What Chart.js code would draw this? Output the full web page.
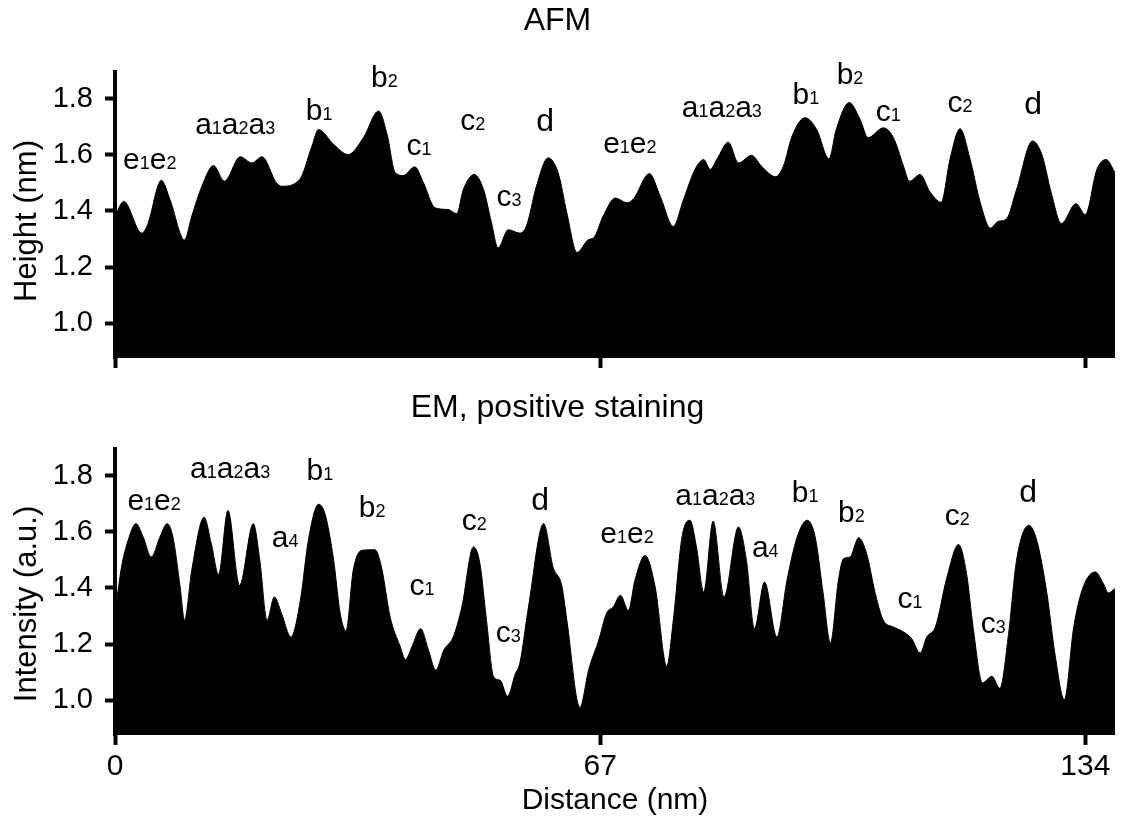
<!DOCTYPE html>
<html>
<head>
<meta charset="utf-8">
<script src="https://cdn.jsdelivr.net/npm/chart.js@4/dist/chart.umd.min.js"></script>
<style>
  body { margin: 0; background: #fff; }
  #wrap { position: relative; width: 1125px; height: 821px; }
  .box { position: absolute; left: 0; width: 1125px; }
  #afmBox { top: 0; height: 380px; }
  #emBox { top: 380px; height: 441px; }
</style>
</head>
<body>
<div id="wrap">
  <div class="box" id="afmBox"><canvas id="afmChart"></canvas></div>
  <div class="box" id="emBox"><canvas id="emChart"></canvas></div>
</div>
<script>
// axis ticks
var xTicks = [0, 67, 134];
var yTicks = [1.0, 1.2, 1.4, 1.6, 1.8];

// AFM height profile (nm vs nm)
var afmDistance = [0, 1.2, 3.7, 4.5, 6.4, 7.6, 9.6, 10.6, 12.0, 13.6, 15.1, 17.3, 18.9, 20.3, 22.3, 23.0, 25.5, 27.2, 28.1, 30.2,
  32.2, 34.3, 36.4, 37.6, 38.7, 39.8, 41.4, 42.6, 44.2, 46.0, 47.2, 48.1, 49.6, 50.9, 52.0, 52.9, 54.3, 55.9, 56.8, 58.2,
  59.8, 61.2, 62.4, 63.8, 65.4, 66.1, 67.4, 69.1, 70.7, 71.6, 73.8, 75.3, 77.1, 78.5, 80.1, 81.3, 82.2, 83.1, 84.7, 86.1,
  87.9, 89.3, 91.2, 92.3, 93.5, 95.3, 96.9, 98.6, 99.6, 101.4, 102.9, 104.0, 106.1, 107.5, 108.9, 109.7, 111.2, 112.5, 114.1, 115.3,
  116.7, 118.1, 119.5, 120.9, 122.0, 123.1, 124.5, 126.7, 128.0, 129.3, 130.7, 132.7, 134.0, 135.6, 136.9, 138.1];
var afmHeight = [1.381, 1.434, 1.321, 1.351, 1.509, 1.44, 1.297, 1.381, 1.488, 1.562, 1.506, 1.593, 1.571, 1.593, 1.5, 1.488, 1.512, 1.631, 1.69, 1.637,
  1.601, 1.661, 1.756, 1.67, 1.536, 1.526, 1.557, 1.5, 1.411, 1.405, 1.39, 1.476, 1.53, 1.476, 1.357, 1.268, 1.333, 1.321, 1.345, 1.488,
  1.589, 1.536, 1.393, 1.252, 1.298, 1.304, 1.381, 1.446, 1.429, 1.443, 1.533, 1.452, 1.345, 1.44, 1.548, 1.583, 1.548, 1.583, 1.645, 1.571,
  1.598, 1.559, 1.522, 1.559, 1.666, 1.732, 1.69, 1.586, 1.69, 1.786, 1.726, 1.661, 1.696, 1.661, 1.559, 1.506, 1.53, 1.47, 1.431, 1.583,
  1.693, 1.583, 1.429, 1.339, 1.363, 1.371, 1.476, 1.649, 1.601, 1.464, 1.355, 1.426, 1.387, 1.548, 1.583, 1.536];

// EM intensity profile
var emDistance = [0, 0.9, 1.8, 2.9, 3.9, 5.0, 6.2, 7.2, 8.0, 9.0, 9.6, 10.6, 12.3, 13.3, 14.3, 15.6, 17.2, 19.1, 20.0, 21.0,
  22.0, 23.0, 24.3, 25.6, 26.7, 28.1, 29.0, 30.2, 31.1, 31.9, 32.9, 34.1, 35.9, 36.8, 38.0, 39.4, 40.1, 41.0, 42.2, 43.3,
  44.3, 45.4, 46.7, 47.9, 49.5, 50.4, 51.3, 52.3, 53.2, 54.2, 55.3, 55.9, 57.1, 59.2, 60.5, 61.7, 62.4, 64.2, 65.4, 66.8,
  67.9, 68.8, 69.8, 70.9, 71.8, 73.2, 74.6, 76.2, 77.1, 78.3, 79.4, 80.3, 81.3, 82.6, 84.1, 86.1, 87.2, 88.3, 89.7, 91.4,
  92.8, 94.2, 95.6, 96.7, 97.8, 98.8, 99.9, 100.6, 101.5, 102.7, 103.8, 105.0, 106.1, 107.5, 108.9, 110.0, 111.2, 112.1, 113.3, 114.9,
  116.5, 117.6, 118.5, 119.8, 121.1, 122.2, 123.4, 124.5, 126.2, 127.3, 128.7, 129.8, 131.1, 132.4, 133.7, 135.4, 136.5, 137.2, 138.1];
var emIntensity = [1.309, 1.474, 1.569, 1.629, 1.581, 1.51, 1.581, 1.629, 1.581, 1.403, 1.285, 1.463, 1.652, 1.558, 1.448, 1.676, 1.409, 1.629, 1.498, 1.285,
  1.368, 1.309, 1.225, 1.356, 1.569, 1.698, 1.664, 1.498, 1.309, 1.247, 1.463, 1.534, 1.536, 1.474, 1.296, 1.19, 1.145, 1.19, 1.255, 1.178,
  1.107, 1.178, 1.225, 1.332, 1.546, 1.486, 1.285, 1.083, 1.071, 1.014, 1.095, 1.131, 1.332, 1.629, 1.474, 1.409, 1.285, 0.974, 1.107, 1.214,
  1.311, 1.332, 1.374, 1.32, 1.427, 1.516, 1.403, 1.121, 1.285, 1.581, 1.641, 1.546, 1.385, 1.638, 1.368, 1.617, 1.498, 1.255, 1.421, 1.225,
  1.427, 1.581, 1.641, 1.581, 1.38, 1.204, 1.427, 1.504, 1.51, 1.579, 1.522, 1.38, 1.285, 1.261, 1.243, 1.22, 1.168, 1.225, 1.261, 1.439,
  1.555, 1.451, 1.261, 1.062, 1.085, 1.042, 1.237, 1.498, 1.623, 1.569, 1.38, 1.166, 1.002, 1.261, 1.403, 1.457, 1.415, 1.382, 1.398];

// peak labels (digits are drawn as subscripts), anchored at distance / value
var afmLabelText = ['e1e2', 'a1a2a3', 'b1', 'b2', 'c1', 'c2', 'c3', 'd', 'e1e2', 'a1a2a3', 'b1', 'b2', 'c1', 'c2', 'd'];
var afmLabelX = [4.8, 16.6, 28.2, 37.2, 42.0, 49.4, 54.4, 59.4, 71.1, 83.8, 95.4, 101.5, 106.8, 116.7, 126.8];
var afmLabelY = [1.548, 1.673, 1.724, 1.840, 1.601, 1.690, 1.416, 1.684, 1.608, 1.733, 1.780, 1.851, 1.720, 1.751, 1.744];

var emLabelText = ['e1e2', 'a1a2a3', 'a4', 'b1', 'b2', 'c1', 'c2', 'c3', 'd', 'e1e2', 'a1a2a3', 'a4', 'b1', 'b2', 'c1', 'c2', 'c3', 'd'];
var emLabelX = [5.4, 15.9, 23.5, 28.3, 35.5, 42.4, 49.6, 54.3, 58.7, 70.7, 82.9, 89.8, 95.3, 101.7, 109.8, 116.3, 121.3, 126.1];
var emLabelY = [1.676, 1.790, 1.546, 1.783, 1.652, 1.374, 1.605, 1.207, 1.676, 1.559, 1.694, 1.510, 1.706, 1.635, 1.327, 1.623, 1.238, 1.706];

var FONT = '"Liberation Sans", Arial, Helvetica, sans-serif';
Chart.defaults.font.family = FONT;
Chart.defaults.color = '#000';

function toPoints(xs, ys) {
  return xs.map(function (x, i) { return { x: x, y: ys[i] }; });
}

// peak names with subscripts + rotated y axis title
function textPlugin(texts, xs, ys, yTitle, yShift) {
  return {
    id: 'peakLabels',
    afterDatasetsDraw: function (chart) {
      var ctx = chart.ctx;
      var sx = chart.scales.x, sy = chart.scales.y;
      ctx.save();
      ctx.fillStyle = '#000';
      ctx.textAlign = 'left';
      ctx.textBaseline = 'alphabetic';
      texts.forEach(function (t, i) {
        var parts = t.split('').map(function (ch) {
          var f = /\d/.test(ch) ? '18px ' + FONT : (ch === 'd' ? '32px ' + FONT : '30px ' + FONT);
          return { ch: ch, font: f };
        });
        var w = 0;
        parts.forEach(function (p) { ctx.font = p.font; p.w = ctx.measureText(p.ch).width; w += p.w; });
        var px = sx.getPixelForValue(xs[i]) - w / 2;
        var py = sy.getPixelForValue(ys[i]);
        parts.forEach(function (p) { ctx.font = p.font; ctx.fillText(p.ch, px, py); px += p.w; });
      });

      var a = chart.chartArea;
      ctx.translate(36, (a.top + a.bottom) / 2 + yShift);
      ctx.rotate(-Math.PI / 2);
      ctx.textAlign = 'center';
      ctx.font = '31px ' + FONT;
      ctx.fillText(yTitle, 0, 0);
      ctx.restore();
    }
  };
}

function makeChart(id, title, titlePad, yTitle, yShift, xs, ys, showX, xHeight, lt, lx, ly) {
  return new Chart(document.getElementById(id).getContext('2d'), {
    type: 'line',
    data: {
      datasets: [{
        data: toPoints(xs, ys),
        borderColor: '#000',
        backgroundColor: '#000',
        borderWidth: 1,
        fill: 'start',
        pointRadius: 0,
        cubicInterpolationMode: 'monotone'
      }]
    },
    options: {
      responsive: true,
      maintainAspectRatio: false,
      animation: false,
      layout: { padding: { left: 0, right: 10, top: 0, bottom: 0 } },
      plugins: {
        legend: { display: false },
        tooltip: { enabled: false },
        title: {
          display: true, text: title, color: '#000',
          font: { size: 32, weight: 'normal', lineHeight: 1 },
          padding: titlePad
        }
      },
      scales: {
        x: {
          type: 'linear', min: 0, max: 138.1,
          afterBuildTicks: function (s) { s.ticks = xTicks.map(function (v) { return { value: v }; }); },
          afterFit: function (s) { s.height = xHeight; },
          grid: { drawOnChartArea: false, drawTicks: true, tickLength: 10, tickWidth: 4, color: '#000' },
          border: { display: false },
          ticks: { display: showX, color: '#000', font: { size: 30 }, padding: 4, maxRotation: 0, autoSkip: false },
          title: { display: showX, text: 'Distance (nm)', color: '#000', font: { size: 30 }, padding: { top: 0, bottom: 2 } }
        },
        y: {
          type: 'linear', min: 0.876, max: 1.895,
          afterBuildTicks: function (s) { s.ticks = yTicks.map(function (v) { return { value: v }; }); },
          afterFit: function (s) { s.width = 115; s.paddingTop = 0; s.paddingBottom = 0; },
          grid: { drawOnChartArea: false, drawTicks: true, tickLength: 10, tickWidth: 4, color: '#000' },
          border: { display: true, width: 4, color: '#000' },
          ticks: { color: '#000', font: { size: 29 }, padding: 12, callback: function (v) { return Number(v).toFixed(1); } }
        }
      }
    },
    plugins: [textPlugin(lt, lx, ly, yTitle, yShift)]
  });
}

var afmChart = makeChart('afmChart', 'AFM', { top: 5, bottom: 35 }, 'Height (nm)', 6,
  afmDistance, afmHeight, false, 22, afmLabelText, afmLabelX, afmLabelY);
var emChart = makeChart('emChart', 'EM, positive staining', { top: 12, bottom: 25 }, 'Intensity (a.u.)', 12,
  emDistance, emIntensity, true, 86, emLabelText, emLabelX, emLabelY);
</script>
</body>
</html>
